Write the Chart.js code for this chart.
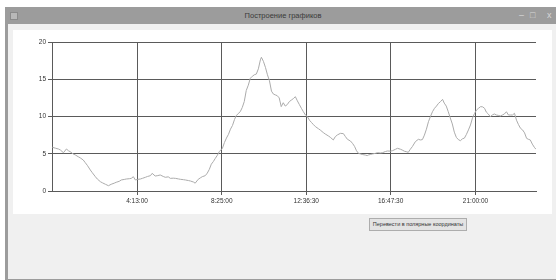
<!DOCTYPE html>
<html>
<head>
<meta charset="utf-8">
<script src="https://cdn.jsdelivr.net/npm/chart.js@4.4.1/dist/chart.umd.min.js"></script>
<style>
  html, body { margin: 0; padding: 0; width: 556px; height: 280px; overflow: hidden; background: #fff; }
  body { position: relative; font-family: 'Liberation Sans', sans-serif; }
  .frame { position: absolute; left: 5px; top: 7px; width: 560px; height: 273px; background: #9c9c9c; }
  .title { position: absolute; left: 0; top: 0; width: 556px; height: 17px; text-align: center;
           font-size: 7.5px; line-height: 17px; color: #3a3a3a; }
  .icon { position: absolute; left: 5px; top: 5px; width: 6px; height: 6px; background: #b8b8b8; border: 1px solid #8a8a8a; }
  .ctl { position: absolute; top: 1px; font-size: 9px; line-height: 14px; color: #d8d8d8; }
  .body { position: absolute; left: 3px; top: 17px; width: 560px; height: 255px; background: #f0f0f0; }
  .panel { position: absolute; left: 13px; top: 30px; width: 539px; height: 184px; background: #fff; }
  .btn { position: absolute; left: 369px; top: 218px; width: 96px; height: 11px; background: #e3e3e3;
         border: 1px solid #adadad; font-size: 5.5px; line-height: 11px; text-align: center; color: #333;
         white-space: nowrap; overflow: hidden; }
</style>
</head>
<body>
<div class="frame">
  <div class="icon"></div>
  <div class="title">Построение графиков</div>
  <div class="ctl" style="left:514px">–</div>
  <div class="ctl" style="left:525px">□</div>
  <div class="ctl" style="left:542px">x</div>
  <div class="body"></div>
</div>
<div class="panel"><canvas id="chart"></canvas></div>
<div class="btn">Перевести в полярные координаты</div>
<script>
// time of each sample, minutes after midnight
const sampleMinutes = [
  1, 10, 19, 25, 34, 43, 49, 54, 63, 69, 78, 84, 93, 99, 105, 114, 120, 129, 135, 144,
  150, 159, 168, 176, 185, 191, 200, 206, 215, 221, 230, 236, 242, 248, 254, 263, 269, 278, 284, 293,
  298, 307, 313, 322, 331, 337, 346, 352, 361, 367, 376, 382, 391, 397, 406, 412, 421, 426, 435, 441,
  447, 456, 462, 468, 474, 480, 486, 492, 498, 507, 513, 519, 525, 531, 537, 543, 548, 554, 560, 566,
  572, 578, 584, 590, 596, 602, 608, 614, 620, 623, 629, 635, 641, 647, 653, 659, 665, 670, 676, 682,
  688, 694, 700, 706, 712, 718, 724, 730, 736, 742, 748, 754, 760, 766, 772, 778, 784, 793, 798, 807,
  813, 822, 828, 837, 843, 849, 858, 867, 873, 879, 888, 894, 900, 906, 912, 918, 923, 932, 938, 941,
  947, 953, 962, 968, 977, 983, 992, 998, 1007, 1013, 1022, 1028, 1037, 1042, 1048, 1054, 1060, 1066, 1072, 1081,
  1090, 1096, 1102, 1108, 1114, 1120, 1126, 1132, 1138, 1144, 1150, 1156, 1162, 1167, 1173, 1179, 1185, 1191, 1197, 1203,
  1209, 1215, 1221, 1227, 1233, 1239, 1245, 1251, 1257, 1263, 1269, 1275, 1281, 1287, 1292, 1298, 1304, 1310, 1316, 1322,
  1328, 1334, 1340, 1346, 1352, 1358, 1364, 1370, 1376, 1382, 1388, 1394, 1400, 1406, 1412, 1417, 1423, 1429, 1435, 1440
];
const values = [
  5.87, 5.75, 5.64, 5.5, 5.14, 5.64, 5.4, 5.28, 4.97, 4.85, 4.6, 4.45, 4.16, 3.8, 3.45, 2.82, 2.45, 1.92, 1.6, 1.25,
  1.1, 0.9, 0.71, 0.9, 1.05, 1.17, 1.3, 1.48, 1.55, 1.61, 1.65, 1.7, 1.92, 1.48, 1.55, 1.61, 1.7, 1.84, 1.95, 2.06,
  2.37, 2.01, 2.05, 2.15, 1.95, 1.84, 1.9, 1.7, 1.72, 1.7, 1.62, 1.57, 1.52, 1.48, 1.4, 1.34, 1.2, 1.05, 1.57, 1.75,
  1.92, 2.06, 2.4, 2.9, 3.6, 3.95, 4.39, 4.8, 5.3, 5.73, 6.5, 7.1, 7.6, 8.3, 8.8, 9.6, 10.1, 10.4, 10.64, 11.2,
  12.0, 13.5, 14.2, 15.13, 15.4, 15.6, 15.7, 16.4, 17.6, 17.95, 17.4, 16.6, 15.6, 14.8, 13.4, 13.0, 12.89, 12.8, 12.5, 11.32,
  11.85, 11.4, 11.6, 12.0, 12.2, 12.4, 12.66, 12.1, 11.6, 11.1, 10.64, 10.2, 9.97, 9.5, 9.2, 8.9, 8.63, 8.35, 8.19, 7.85,
  7.65, 7.4, 7.21, 6.85, 7.3, 7.52, 7.74, 7.7, 7.3, 6.94, 6.71, 6.4, 6.0, 5.4, 5.05, 4.97, 4.9, 4.83, 4.75, 4.83,
  4.9, 4.97, 5.05, 5.14, 5.1, 5.14, 5.3, 5.37, 5.35, 5.41, 5.6, 5.73, 5.6, 5.5, 5.35, 5.28, 5.19, 5.6, 5.95, 6.62,
  6.94, 6.85, 6.9, 7.5, 8.3, 9.3, 10.0, 10.64, 11.1, 11.4, 11.77, 12.0, 12.3, 11.8, 11.4, 10.64, 9.8, 9.0, 7.9, 7.2,
  6.9, 6.75, 7.0, 7.1, 7.6, 8.2, 8.86, 9.8, 10.4, 10.87, 11.1, 11.32, 11.3, 11.1, 10.6, 10.34, 9.97, 10.2, 10.34, 10.2,
  10.15, 10.07, 10.2, 10.34, 10.64, 10.2, 10.2, 10.2, 10.43, 9.5, 8.9, 8.41, 8.2, 7.8, 7.07, 6.95, 6.85, 6.3, 5.87, 5.6
];
const tickMinutes = [253, 505, 756.5, 1007.5, 1260];
const yTicks = [0, 5, 10, 15, 20];

function fmtTime(m) {
  const s = Math.round(m * 60);
  const h = Math.floor(s / 3600);
  const mm = Math.floor((s % 3600) / 60);
  const ss = s % 60;
  return h + ':' + String(mm).padStart(2, '0') + ':' + String(ss).padStart(2, '0');
}

const tickFont = { family: "'Liberation Sans', sans-serif", size: 6.5 };
const gridColor = '#5a5a5a';

const ctx = document.getElementById('chart').getContext('2d');
new Chart(ctx, {
  type: 'line',
  data: {
    datasets: [{
      data: sampleMinutes.map((m, i) => ({ x: m, y: values[i] })),
      borderColor: '#ababab',
      borderWidth: 1,
      pointRadius: 0,
      tension: 0,
      fill: false
    }]
  },
  options: {
    responsive: true,
    maintainAspectRatio: false,
    animation: false,
    layout: { padding: { top: 12, right: 16, left: 0, bottom: 0 } },
    plugins: { legend: { display: false }, tooltip: { enabled: false } },
    scales: {
      x: {
        type: 'linear',
        min: 0,
        max: 1440,
        afterBuildTicks: scale => { scale.ticks = tickMinutes.map(v => ({ value: v })); },
        afterFit: scale => { scale.height = 23; },
        grid: { color: gridColor, tickLength: 4 },
        border: { color: gridColor },
        ticks: {
          autoSkip: false, maxRotation: 0, padding: 2,
          color: '#333', font: tickFont,
          callback: v => fmtTime(v)
        }
      },
      y: {
        min: 0,
        max: 20,
        afterBuildTicks: scale => { scale.ticks = yTicks.map(v => ({ value: v })); },
        afterFit: scale => { scale.width = 39; },
        grid: { color: gridColor, tickLength: 4 },
        border: { color: gridColor },
        ticks: { padding: 2, color: '#333', font: tickFont }
      }
    }
  }
});
</script>
</body>
</html>
